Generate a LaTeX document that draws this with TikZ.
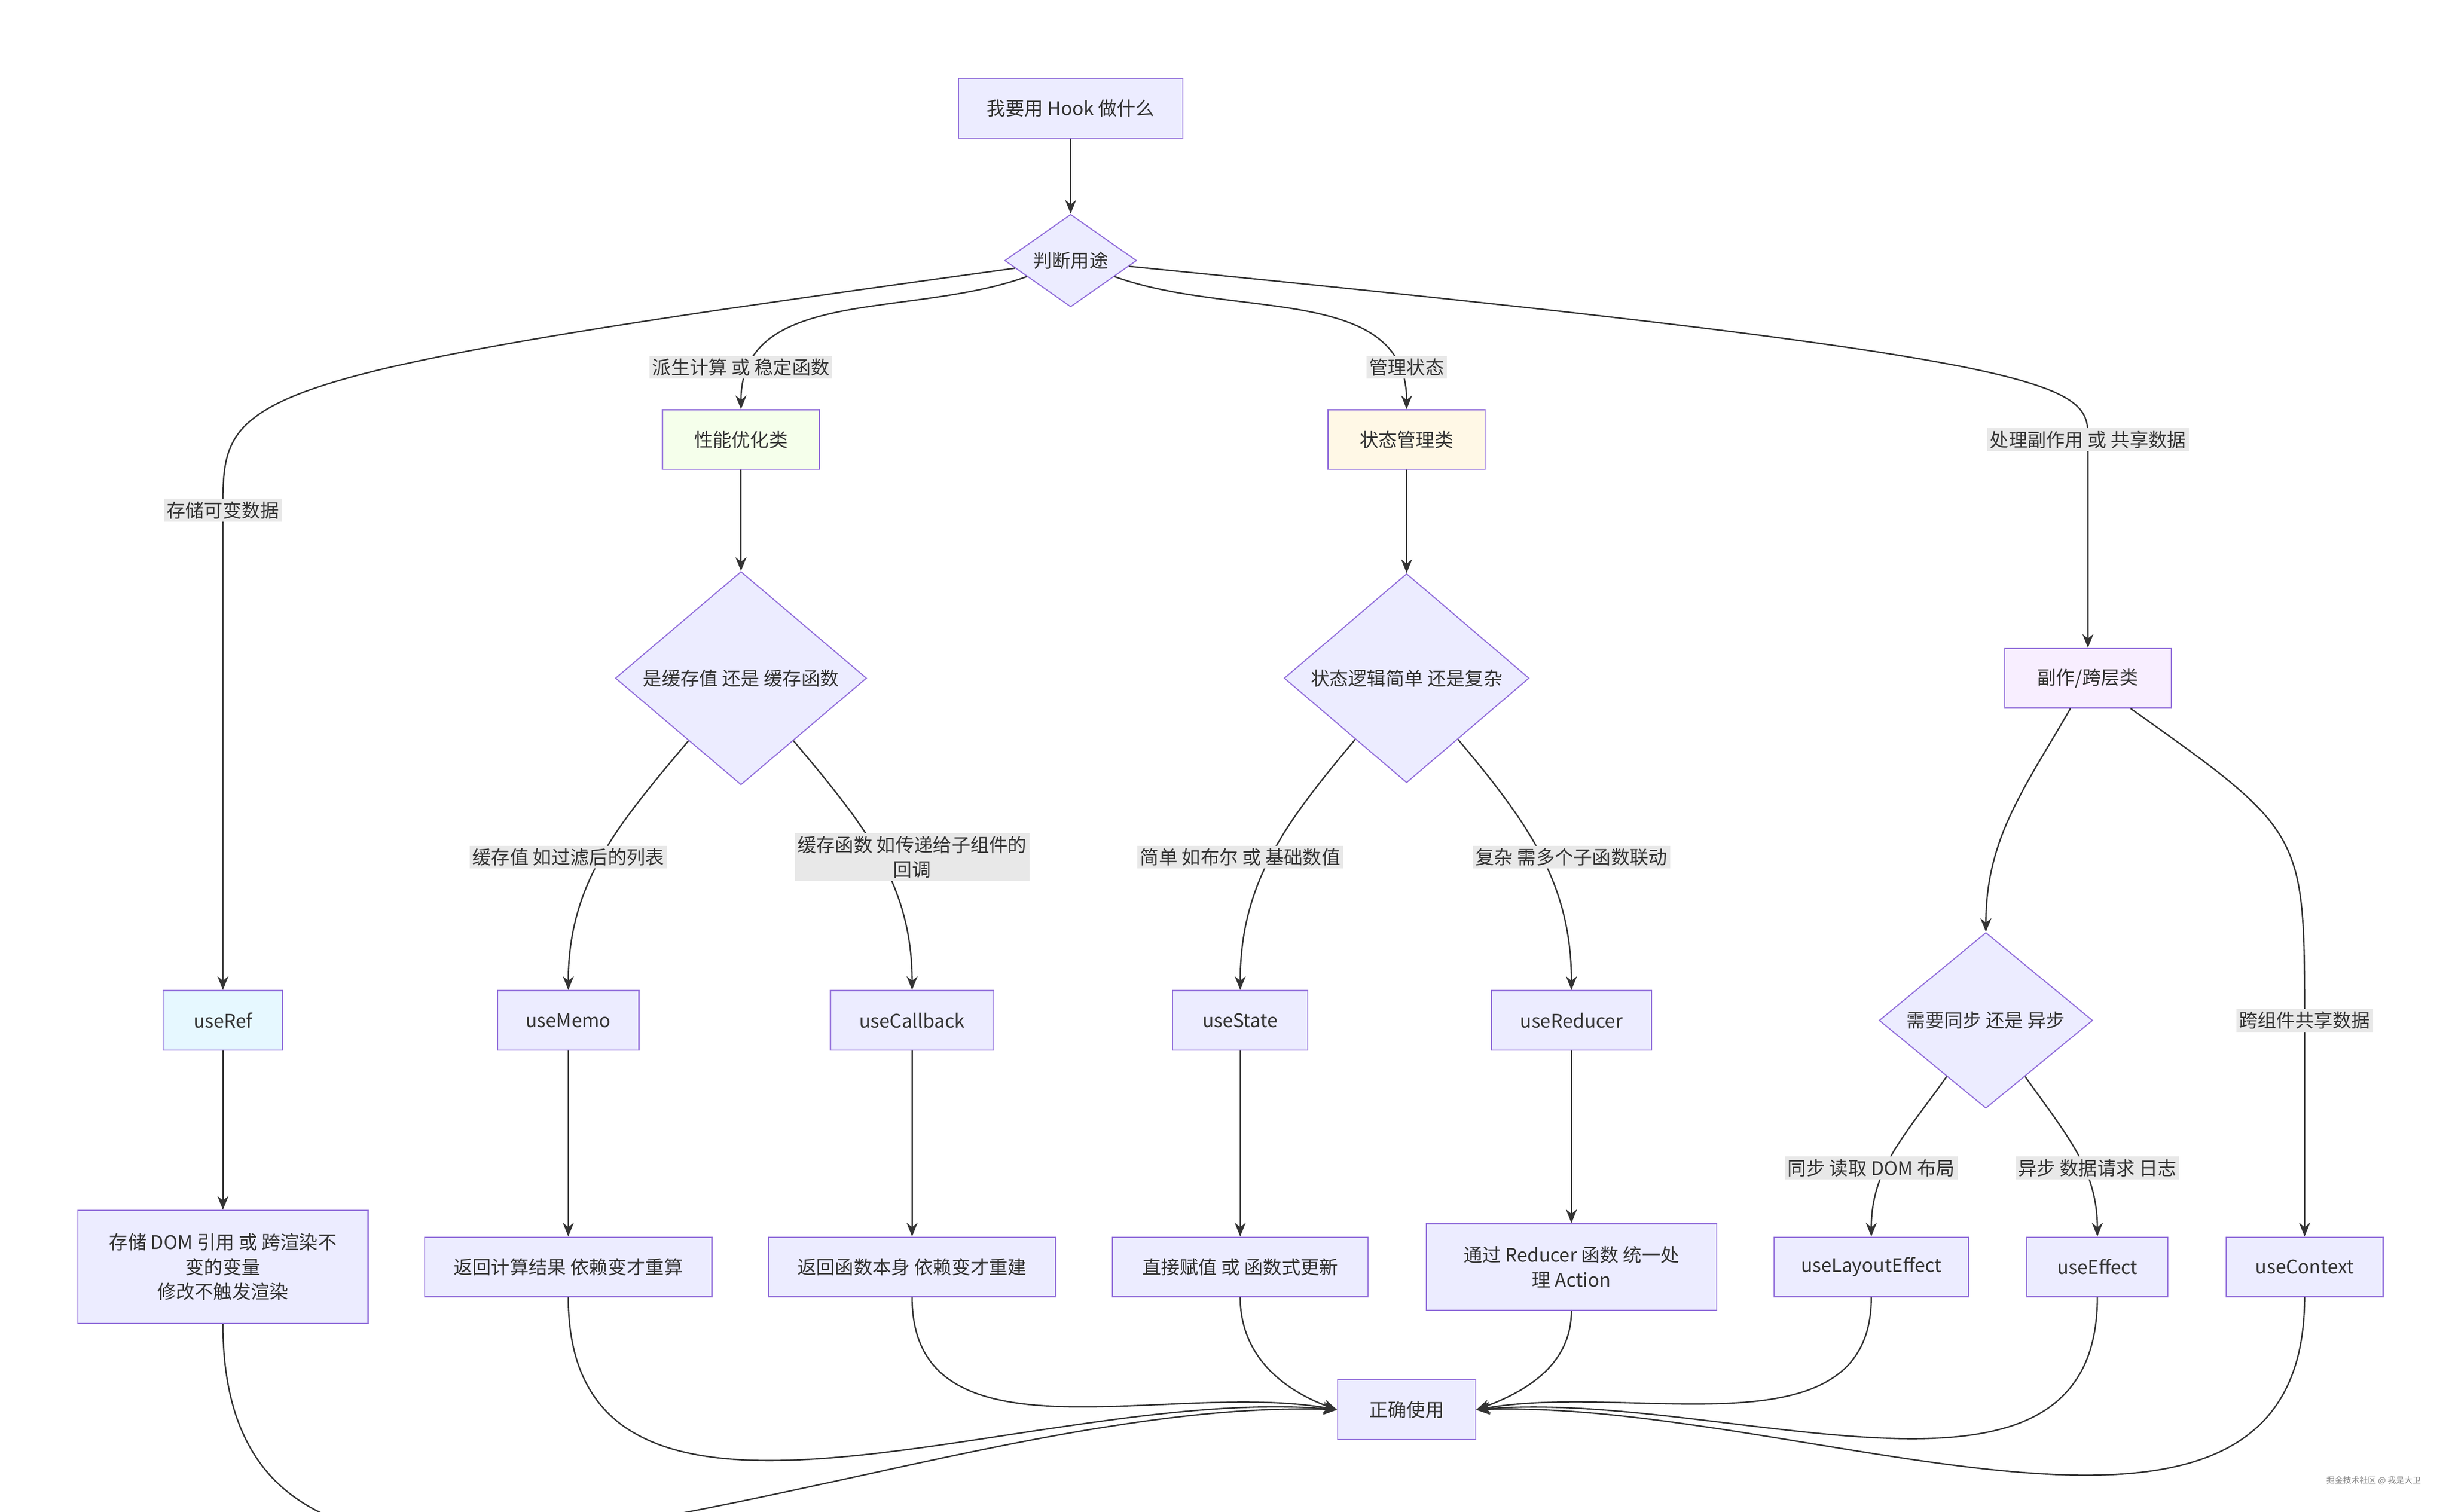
\documentclass[tikz,border=0pt]{standalone}
\usepackage{fontspec}
\setmainfont{Noto Sans CJK SC}
\usetikzlibrary{arrows.meta,shapes.geometric,positioning}
\definecolor{mline}{HTML}{9370DB}
\definecolor{mfill}{HTML}{ECECFF}
\definecolor{edge}{HTML}{333333}
\definecolor{lblbg}{HTML}{E8E8E8}

\begin{document}
\begin{tikzpicture}[
				x=0.02cm,y=-0.02cm,
				font=\fontsize{6.8}{9}\selectfont,
				box/.style={draw=mline,fill=mfill,rectangle,minimum height=0.76cm,inner sep=2pt,align=center,text=edge},
				choice/.style={draw=mline,fill=mfill,diamond,aspect=1,inner sep=0pt,align=center,text=edge},
				lbl/.style={fill=lblbg,inner sep=1pt,align=center,text=edge},
				arr/.style={-{Stealth[length=5pt,width=4pt]},edge,line width=0.5pt}
				]
				\useasboundingbox (0,0) rectangle (1560,963);
				
				% Start
				\node[box,minimum width=2.86cm] (start) at (682,69) {我要用 Hook 做什么};
				\node[choice,minimum width=1.68cm] (judge) at (682,166) {判断用途};
				
				% Categories
				\node[box,fill={rgb,255:red,245;green,255;blue,235},minimum width=2cm] (perf) at (472,280) {性能优化类};
				\node[box,fill={rgb,255:red,255;green,248;blue,230},minimum width=2cm] (state) at (896,280) {状态管理类};
				\node[box,fill={rgb,255:red,248;green,238;blue,255},minimum width=2.12cm] (side) at (1330,432) {副作/跨层类};
				
				% Choices
				\node[choice,minimum width=3.2cm] (cache) at (472,432) {是缓存值 还是 缓存函数};
				\node[choice,minimum width=3.12cm] (logic) at (896,432) {状态逻辑简单 还是复杂};
				\node[choice,minimum width=2.72cm] (sync) at (1265,650) {需要同步 还是 异步};
				
				% Hooks
				\node[box,fill={rgb,255:red,230;green,248;blue,255},minimum width=1.52cm] (useRef) at (142,650) {useRef};
				\node[box,minimum width=1.8cm] (useMemo) at (362,650) {useMemo};
				\node[box,minimum width=2.08cm] (useCallback) at (581,650) {useCallback};
				\node[box,minimum width=1.72cm] (useState) at (790,650) {useState};
				\node[box,minimum width=2.04cm] (useReducer) at (1001,650) {useReducer};
				\node[box,minimum width=2.48cm] (useLayout) at (1192,807) {useLayoutEffect};
				\node[box,minimum width=1.8cm] (useEffect) at (1336,807) {useEffect};
				\node[box,minimum width=2cm] (useContext) at (1468,807) {useContext};
				
				% Results
				\node[box,minimum width=3.7cm,minimum height=1.44cm] (refres) at (142,807) {存储 DOM 引用 或 跨渲染不\\变的变量\\修改不触发渲染};
				\node[box,minimum width=3.66cm] (memores) at (362,807) {返回计算结果 依赖变才重算};
				\node[box,minimum width=3.66cm] (cbres) at (581,807) {返回函数本身 依赖变才重建};
				\node[box,minimum width=3.26cm] (stateres) at (790,807) {直接赋值 或 函数式更新};
				\node[box,minimum width=3.7cm,minimum height=1.1cm] (redres) at (1001,807) {通过 Reducer 函数 统一处\\理 Action};
				\node[box,minimum width=1.76cm] (final) at (896,898) {正确使用};
				
				% Label spots
				\coordinate (cRef) at (142,325);
				\coordinate (cSide) at (1330,280);
				\coordinate (cCtx) at (1468,650);
				
				% Connections
				\draw[arr] (start) -- (judge);
				\draw[arr] (judge) .. controls (142,240) and (142,250) .. (cRef) -- (useRef);
				\draw[arr] (judge) to[out=200,in=90] (perf);
				\draw[arr] (judge) to[out=-20,in=90] (state);
				\draw[arr] (judge) .. controls (1330,230) and (1330,245) .. (cSide) -- (side);
				\draw[arr] (perf) -- (cache);
				\draw[arr] (state) -- (logic);
				\draw[arr] (cache) to[out=230,in=90] (useMemo);
				\draw[arr] (cache) to[out=-50,in=90] (useCallback);
				\draw[arr] (logic) to[out=230,in=90] (useState);
				\draw[arr] (logic) to[out=-50,in=90] (useReducer);
				\draw[arr] (side) to[out=240,in=90] (sync);
				\draw[arr] (side) .. controls (1468,530) .. (cCtx) -- (useContext);
				\draw[arr] (sync) to[out=235,in=90] (useLayout);
				\draw[arr] (sync) to[out=-55,in=90] (useEffect);
				\draw[arr] (useRef) -- (refres);
				\draw[arr] (useMemo) -- (memores);
				\draw[arr] (useCallback) -- (cbres);
				\draw[arr] (useState) -- (stateres);
				\draw[arr] (useReducer) -- (redres);
				\draw[arr] (refres.south) to[out=-90,in=178] (final.west);
				\draw[arr] (memores.south) to[out=-90,in=175] (final.west);
				\draw[arr] (cbres.south) to[out=-90,in=170] (final.west);
				\draw[arr] (stateres.south) to[out=-90,in=160] (final.west);
				\draw[arr] (redres.south) to[out=-90,in=20] (final.east);
				\draw[arr] (useLayout.south) to[out=-90,in=10] (final.east);
				\draw[arr] (useEffect.south) to[out=-90,in=5] (final.east);
				\draw[arr] (useContext.south) to[out=-90,in=2] (final.east);
				
				% Edge labels
				\node[lbl] (lRef) at (cRef) {存储可变数据};
				\node[lbl] (lPerf) at (472,234) {派生计算 或 稳定函数};
				\node[lbl] (lState) at (896,234) {管理状态};
				\node[lbl] (lSide) at (cSide) {处理副作用 或 共享数据};
				\node[lbl] (lMemo) at (362,546) {缓存值 如过滤后的列表};
				\node[lbl] (lCb) at (581,546) {缓存函数 如传递给子组件的\\回调};
				\node[lbl] (lSimple) at (790,546) {简单 如布尔 或 基础数值};
				\node[lbl] (lComplex) at (1001,546) {复杂 需多个子函数联动};
				\node[lbl] (lSync) at (1192,744) {同步 读取 DOM 布局};
				\node[lbl] (lAsync) at (1336,744) {异步 数据请求 日志};
				\node[lbl] (lCtx) at (cCtx) {跨组件共享数据};
				
				\node[font=\fontsize{3}{4}\selectfont,text=gray] (mark) at (1512,943) {掘金技术社区 @ 我是大卫};
			\end{tikzpicture}
\end{document}
